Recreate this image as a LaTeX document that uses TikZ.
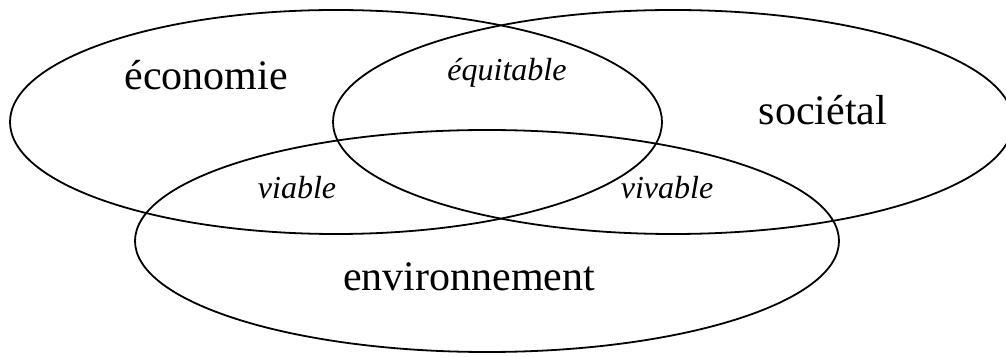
\documentclass[tikz,border=0pt]{standalone}
\usepackage{fontspec}
\setmainfont{Liberation Serif}
\tikzset{
  ring/.style={draw=black, line width=1.8pt},
  big/.style={inner sep=0pt, anchor=base, font=\fontsize{42}{46}\selectfont},
  small/.style={inner sep=0pt, anchor=base, font=\fontsize{32}{36}\selectfont\itshape},
}
\begin{document}
\begin{tikzpicture}[x=1pt,y=1pt]
\useasboundingbox (0,0) rectangle (1006,356);
\clip (0,0) rectangle (1006,356);
\fill[white] (0,0) rectangle (1006,356);
\draw[ring] (336,234) ellipse [x radius=326, y radius=112];
\draw[ring] (673,234) ellipse [x radius=340, y radius=112];
\draw[ring] (487,115) ellipse [x radius=352, y radius=111];
\node[big] (eco) at (206,266) {économie};
\node[big] (soc) at (823,231) {sociétal};
\node[big] (env) at (469,65) {environnement};
\node[small] (equ) at (507,275) {équitable};
\node[small] (via) at (297,157) {viable};
\node[small] (viv) at (667,157) {vivable};
\end{tikzpicture}
\end{document}
